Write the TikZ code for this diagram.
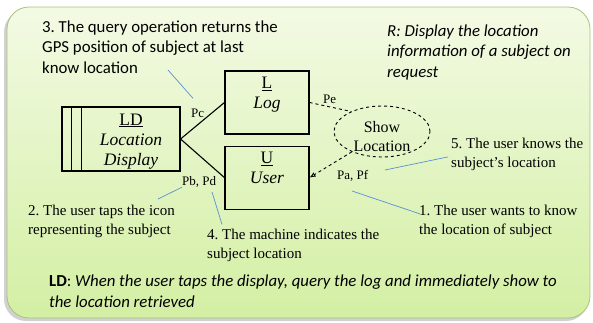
\documentclass[tikz,border=0pt]{standalone}
\usepackage{fontspec}
\setmainfont{Liberation Serif}
\newfontfamily\carlito{Carlito}
\usetikzlibrary{arrows.meta, positioning, shapes.geometric}
\frenchspacing

\definecolor{paneltop}{HTML}{F3FAE4}
\definecolor{panelbottom}{HTML}{D3EFA3}
\definecolor{paneledge}{HTML}{A6C47A}
\definecolor{noteblue}{HTML}{5B8FD6}

\begin{document}
\begin{tikzpicture}[
			x=1pt, y=-1pt,
			box/.style={draw, line width=1.1pt, minimum width=84pt, minimum height=63pt, inner sep=0pt},
			boxlabel/.style={font=\fontsize{17.5}{20}\selectfont, align=center, inner sep=0pt, anchor=north},
			port/.style={font=\fontsize{13}{15}\selectfont, inner sep=0pt, anchor=base west},
			note/.style={font=\fontsize{15}{19}\selectfont, align=left, inner sep=0pt, anchor=base west},
			remark/.style={font=\carlito\fontsize{16.8}{20.4}\selectfont, align=left, inner sep=0pt, anchor=base west},
			link/.style={line width=1.1pt},
			flow/.style={dashed, line width=0.9pt},
			pointer/.style={draw=noteblue, line width=0.7pt}
			]
			\useasboundingbox (0,0) rectangle (593,322);
			% panel
			\fill[black!18, rounded corners=22pt] (4,10) rectangle (588,321);
			\shade[rounded corners=22pt, top color=paneltop, bottom color=panelbottom, draw=paneledge, line width=0.8pt]
				(7,7) rectangle (590,318);

			% boxes
			\node[box, minimum width=118pt, minimum height=64pt] (display) at (121,139) {};
			\draw[link] ([xshift=10pt]display.north west) -- ([xshift=10pt]display.south west);
			\draw[link] ([xshift=20pt]display.north west) -- ([xshift=20pt]display.south west);
			\node[boxlabel] (displaylabel) at (131,113.5) {\underline{LD}\\\textit{Location}\\\textit{Display}};
			\node[box] (log) at (267,102.5) {};
			\node[box, below=11pt of log] (user) {};
			\node[boxlabel, below=6.5pt of log.north] (loglabel) {\underline{L}\\\textit{Log}};
			\node[boxlabel, below=6.5pt of user.north] (userlabel) {\underline{U}\\\textit{User}};
			\node[draw, ellipse, flow, minimum width=96pt, minimum height=51pt, inner sep=0pt] (show) at (382,131.5) {};
			\node[boxlabel, font=\fontsize{16}{19}\selectfont] (showlabel) at (382,121) {Show\\Location};

			% ports
			\node[port] (pc) at (191,117) {Pc};
			\node[port] (pe) at (323,103) {Pe};
			\node[port] (pbpd) at (182,185) {Pb, Pd};
			\node[port] (papf) at (337,179) {Pa, Pf};

			\draw[link] (display.east) -- (log.west);
			\draw[link] (display.east) -- (user.west);
			\draw[flow] (log.east) -- (show.147);
			\draw[flow, -{Latex[open, length=6pt, width=5pt]}] (show.214) -- (user.east);

			% notes (base = last line)
			\node[remark] (note3) at (42,73) {3. The query operation returns the\\GPS position of subject at last\\know location};
			\node[remark, font=\carlito\itshape\fontsize{16.8}{20.4}\selectfont] (req) at (387,77) {R: Display the location\\information of a subject on\\request};
			\node[note] (note1) at (419,234) {1. The user wants to know\\the location of subject};
			\node[note] (note2) at (28,234) {2. The user taps the icon\\representing the subject};
			\node[note] (note4) at (207,258) {4. The machine indicates the\\subject location};
			\node[note] (note5) at (451,167) {5. The user knows the\\subject's location};
			\node[remark] (rule) at (49,307) {\textbf{LD}: \textit{When the user taps the display, query the log and immediately show to}\\\textit{the location retrieved}};

			\coordinate (end1) at (352,191);
			\coordinate (end2) at (158,199);
			\coordinate (end3) at (168,70);
			\coordinate (end4) at (212,192);
			\coordinate (end5) at (385,170);
			\draw[pointer] ([shift={(1,9.5)}]note1.north west) -- (end1);
			\draw[pointer] (pbpd.south west) -- (end2);
			\draw[pointer] ([shift={(2,-10)}]pc.north west) -- (end3);
			\draw[pointer] ([shift={(15,-4)}]note4.north west) -- (end4);
			\draw[pointer] ([shift={(-3,19.5)}]note5.north west) -- (end5);
		\end{tikzpicture}
\end{document}
